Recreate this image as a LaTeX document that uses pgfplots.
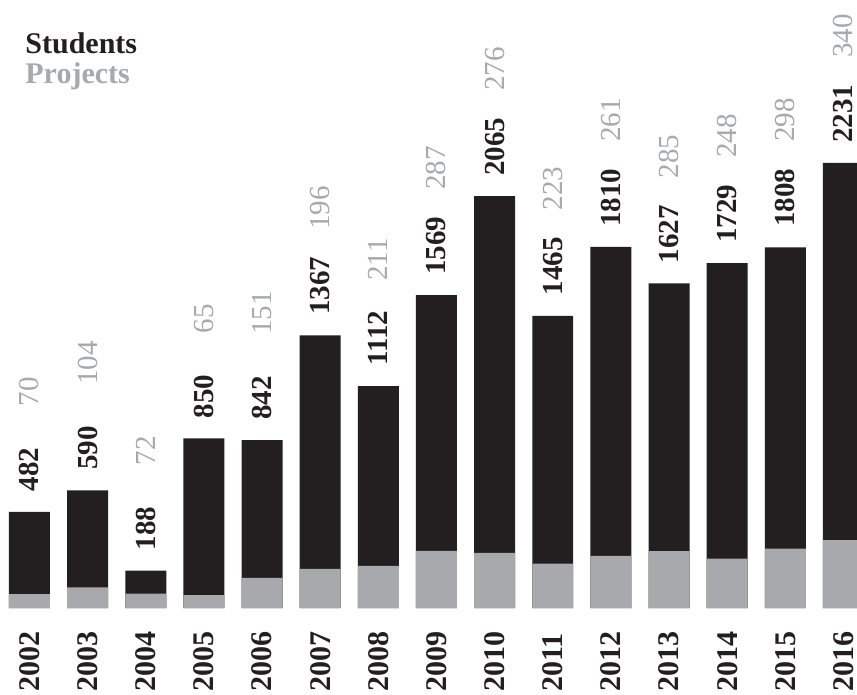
\documentclass[border=0pt]{standalone}
\usepackage{fontspec}
\setmainfont{Liberation Serif}
\usepackage{pgfplots}
\usepackage{pgfplotstable}
\pgfplotsset{compat=1.18}

\definecolor{sblack}{HTML}{231F20}
\definecolor{pgray}{HTML}{A7A9AC}

% i = position, s = students, p = projects
\pgfplotstableread{
i year s p
0 2002 482 70
1 2003 590 104
2 2004 188 72
3 2005 850 65
4 2006 842 151
5 2007 1367 196
6 2008 1112 211
7 2009 1569 287
8 2010 2065 276
9 2011 1465 223
10 2012 1810 261
11 2013 1627 285
12 2014 1729 248
13 2015 1808 298
14 2016 2231 340
}\data

\begin{document}
\begin{tikzpicture}
\begin{axis}[
  scale only axis,
  width=428.5pt, height=347.5pt,
  xmin=-0.507, xmax=14.233,
  ymin=-436, ymax=3048,
  axis line style={draw=none},
  tick style={draw=none},
  ytick=\empty,
  xtick={0,...,14},
  xticklabels from table={\data}{year},
  xticklabel style={yshift=1.5pt, rotate=90, anchor=west, inner sep=0pt,
    font=\fontsize{15}{18}\selectfont\bfseries, text=sblack},
]
\addplot[ybar, bar width=0.705, bar shift=0pt, fill=sblack, draw=none]
  table[x=i, y=s]{\data};
\addplot[ybar, bar width=0.705, bar shift=0pt, fill=pgray, draw=none]
  table[x=i, y=p]{\data};
% students labels
\addplot[draw=none, mark=none, nodes near coords, point meta=explicit symbolic,
  nodes near coords style={yshift=10pt, rotate=90, anchor=west, inner sep=0pt,
    font=\fontsize{14.5}{17}\selectfont\bfseries, text=sblack}]
  table[x=i, y=s, meta=s]{\data};
% projects labels
\addplot[draw=none, mark=none, nodes near coords, point meta=explicit symbolic,
  nodes near coords style={yshift=52.5pt, rotate=90, anchor=west, inner sep=0pt,
    font=\fontsize{14.5}{17}\selectfont, text=pgray}]
  table[x=i, y=s, meta=p]{\data};
\node[anchor=base west, inner sep=0pt, font=\fontsize{15}{18}\selectfont\bfseries,
  text=sblack] at (axis cs:-0.077,2782) {Students};
\node[anchor=base west, inner sep=0pt, font=\fontsize{15}{18}\selectfont\bfseries,
  text=pgray] at (axis cs:-0.077,2630) {Projects};
\end{axis}
\end{tikzpicture}
\end{document}
